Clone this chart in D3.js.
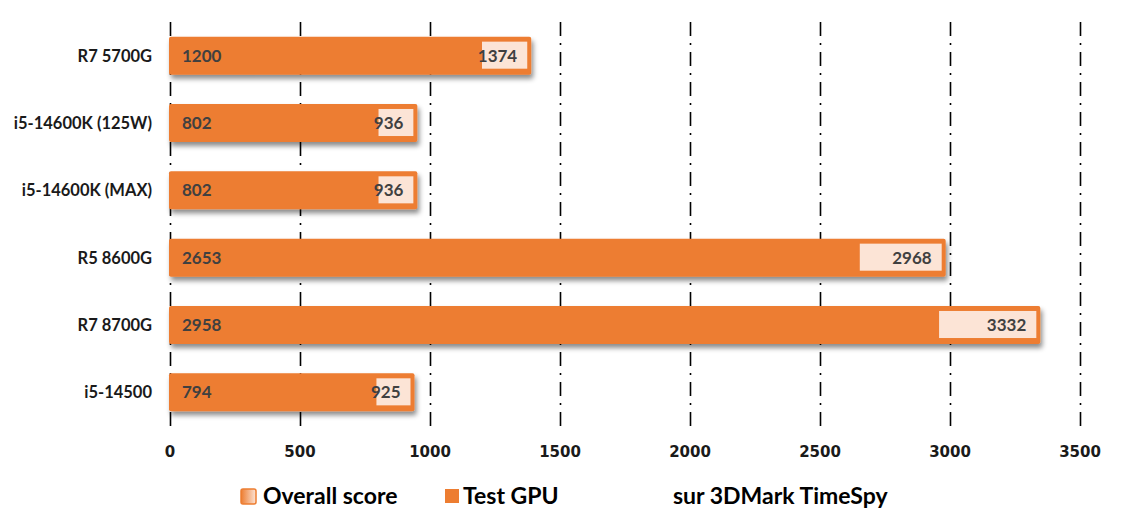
<!DOCTYPE html>
<html><head><meta charset="utf-8">
<script src="https://cdn.jsdelivr.net/npm/d3@7/dist/d3.min.js"></script>
<style>body{margin:0;background:#fff}svg{display:block}text{font-weight:bold}</style>
</head><body><svg id="c" width="1124" height="530"></svg>
<script>
const categories = ["R7 5700G","i5-14600K (125W)","i5-14600K (MAX)","R5 8600G","R7 8700G","i5-14500"];
const overallScore = [1200, 802, 802, 2653, 2958, 794];
const testGPU = [1374, 936, 936, 2968, 3332, 925];
const xTicks = [0,500,1000,1500,2000,2500,3000,3500];
const legendLabels = ["Overall score","Test GPU","sur 3DMark TimeSpy"];

const svg = d3.select("#c").style("font-family","Lato,'Open Sans',sans-serif");
const x = d3.scaleLinear().domain([0,3500]).range([170,1080]);
const y = d3.scaleBand().domain(categories).range([22,426]).paddingInner(0.435).paddingOuter(0.2175);
const orange = "#ED7D31", light = "#FCE4D6";

const defs = svg.append("defs");
const f = defs.append("filter").attr("id","sh").attr("x","-5%").attr("y","-30%").attr("width","115%").attr("height","190%");
f.append("feDropShadow").attr("dx",2).attr("dy",4).attr("stdDeviation",2.5).attr("flood-color","#000").attr("flood-opacity",0.45);
const g = defs.append("linearGradient").attr("id","lg").attr("x1","0").attr("x2","1");
g.append("stop").attr("offset","0").attr("stop-color",orange);
g.append("stop").attr("offset","1").attr("stop-color",light);

// grid
svg.append("g").selectAll("line").data(xTicks).join("line")
  .attr("x1",d=>Math.round(x(d))+0.5).attr("x2",d=>Math.round(x(d))+0.5)
  .attr("y1",22).attr("y2",427)
  .attr("stroke","#000").attr("stroke-width",1.6).attr("stroke-dasharray","14,7,2,7");

// tick labels
svg.append("g").style("font-family","'DejaVu Sans',sans-serif").selectAll("text").data(xTicks).join("text")
  .attr("x",d=>x(d)).attr("y",457).attr("text-anchor","middle")
  .attr("font-size",15).attr("fill","#1a1a1a").text(d=>d);

// category labels
svg.append("g").selectAll("text").data(categories).join("text")
  .attr("x",152).attr("y",d=>y(d)+y.bandwidth()/2+6).attr("text-anchor","end")
  .attr("font-size",16.5).attr("fill","#1a1a1a").text(d=>d);

const rows = categories.map((c,i)=>({c, o:overallScore[i], t:testGPU[i]}));
const bars = svg.append("g").selectAll("g").data(rows).join("g");
bars.append("rect").attr("x",x(0)-1).attr("y",d=>y(d.c))
  .attr("width",d=>x(d.t)-x(0)+5).attr("height",y.bandwidth())
  .attr("rx",2).attr("fill",orange).attr("filter","url(#sh)");
bars.append("rect").attr("x",d=>x(d.o)).attr("y",d=>y(d.c)+5)
  .attr("width",d=>x(d.t)-x(d.o)).attr("height",y.bandwidth()-11).attr("fill",light);
bars.append("text").attr("x",x(0)+12).attr("y",d=>y(d.c)+y.bandwidth()/2+6)
  .attr("font-size",17).attr("fill","#404040").text(d=>d.o);
bars.append("text").attr("x",d=>x(d.t)-10).attr("y",d=>y(d.c)+y.bandwidth()/2+6)
  .attr("text-anchor","end").attr("font-size",17).attr("fill","#404040").text(d=>d.t);

// legend
const lg = svg.append("g");
lg.append("rect").attr("x",241).attr("y",489).attr("width",15).attr("height",15).attr("rx",2).attr("fill","url(#lg)").attr("stroke",orange).attr("stroke-width",1.5);
lg.append("rect").attr("x",445).attr("y",489).attr("width",14).attr("height",14).attr("fill",orange);
const lx = [263, 463, 673];
lg.selectAll("text").data(legendLabels).join("text")
  .attr("x",(d,i)=>lx[i]).attr("y",504).attr("font-size",23).attr("fill","#000").text(d=>d);
</script></body></html>
